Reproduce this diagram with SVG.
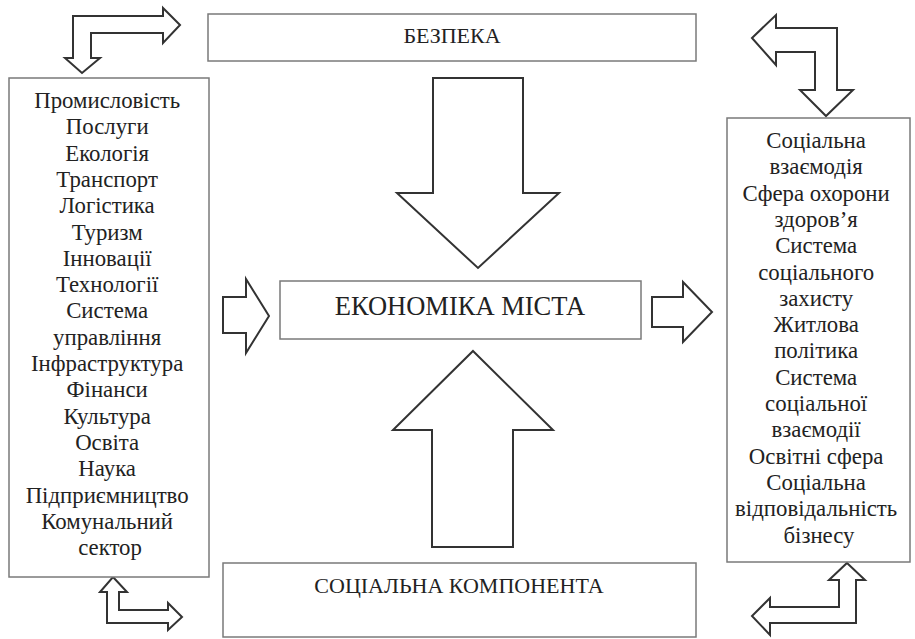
<svg xmlns="http://www.w3.org/2000/svg" width="915" height="639" viewBox="0 0 915 639">
<style>
.box{fill:#fff;stroke:#7a7a7a;stroke-width:1.5}
.arr{fill:#fff;stroke:#333;stroke-width:2;stroke-linejoin:miter}
text{font-family:'Liberation Serif','Times New Roman',serif;fill:#222;text-anchor:middle}
.l{font-size:22.8px}
</style>
<rect width="915" height="639" fill="#fff"/>
<g id="connectors">
<path class="arr" d="M180,25 L163,8 L163,16 L73,16 L73,58 L65,58 L82,73 L100,58 L91,58 L91,33 L163,33 L163,43 Z"/>
<path class="arr" d="M752,38 L776,15 L776,28 L837,28 L837,90 L853,90 L826,116 L800,90 L815,90 L815,52 L776,52 L776,65 Z"/>
<path class="arr" d="M113,577 L127,592 L119,592 L119,610 L168,610 L168,603 L182,617 L168,630 L168,623 L107,623 L107,592 L100,592 Z"/>
<path class="arr" d="M847,563 L865,580 L856,580 L856,623 L770,623 L770,635 L752,616 L770,598 L770,607 L839,607 L839,580 L829,580 Z"/>
<path class="arr" d="M433,78 L523,78 L523,193 L559,193 L478,268 L397,193 L433,193 Z"/>
<path class="arr" d="M473,351 L553,430 L513,430 L513,547 L432,547 L432,430 L393,430 Z"/>
<path class="arr" d="M223,297 L246,297 L246,279 L269,316 L246,353 L246,333 L223,333 Z"/>
<path class="arr" d="M652,297 L683,297 L683,282 L712,312 L683,342 L683,327 L652,327 Z"/>
</g>
<g id="bezpeka">
<rect class="box" x="208" y="14" width="488" height="47"/>
<text x="452" y="43" font-size="22">БЕЗПЕКА</text>
</g>
<g id="economy">
<rect class="box" x="280" y="281" width="361" height="58"/>
<text x="460" y="315" font-size="26.5">ЕКОНОМІКА МІСТА</text>
</g>
<g id="social">
<rect class="box" x="223" y="563" width="473" height="74"/>
<text x="459" y="593" font-size="22">СОЦІАЛЬНА КОМПОНЕНТА</text>
</g>
<g id="left">
<rect class="box" x="9" y="78" width="200" height="499"/>
<text class="l">
<tspan x="110" y="108">Промисловість</tspan>
<tspan x="110" y="134.3">Послуги</tspan>
<tspan x="110" y="160.6">Екологія</tspan>
<tspan x="110" y="186.9">Транспорт</tspan>
<tspan x="110" y="213.2">Логістика</tspan>
<tspan x="110" y="239.5">Туризм</tspan>
<tspan x="110" y="265.8">Інновації</tspan>
<tspan x="110" y="292.1">Технології</tspan>
<tspan x="110" y="318.4">Система</tspan>
<tspan x="110" y="344.7">управління</tspan>
<tspan x="110" y="371">Інфраструктура</tspan>
<tspan x="110" y="397.3">Фінанси</tspan>
<tspan x="110" y="423.6">Культура</tspan>
<tspan x="110" y="449.9">Освіта</tspan>
<tspan x="110" y="476.2">Наука</tspan>
<tspan x="110" y="502.5">Підприємництво</tspan>
<tspan x="110" y="528.8">Комунальний</tspan>
<tspan x="110" y="555.1">сектор</tspan>
</text>
</g>
<g id="right">
<rect class="box" x="727" y="118" width="183" height="444"/>
<text class="l">
<tspan x="819" y="148">Соціальна</tspan>
<tspan x="819" y="174.3">взаємодія</tspan>
<tspan x="819" y="200.6">Сфера охорони</tspan>
<tspan x="819" y="226.9">здоров’я</tspan>
<tspan x="819" y="253.2">Система</tspan>
<tspan x="819" y="279.5">соціального</tspan>
<tspan x="819" y="305.8">захисту</tspan>
<tspan x="819" y="332.1">Житлова</tspan>
<tspan x="819" y="358.4">політика</tspan>
<tspan x="819" y="384.7">Система</tspan>
<tspan x="819" y="411">соціальної</tspan>
<tspan x="819" y="437.3">взаємодії</tspan>
<tspan x="819" y="463.6">Освітні сфера</tspan>
<tspan x="819" y="489.9">Соціальна</tspan>
<tspan x="819" y="516.2">відповідальність</tspan>
<tspan x="819" y="542.5">бізнесу</tspan>
</text>
</g>
</svg>
